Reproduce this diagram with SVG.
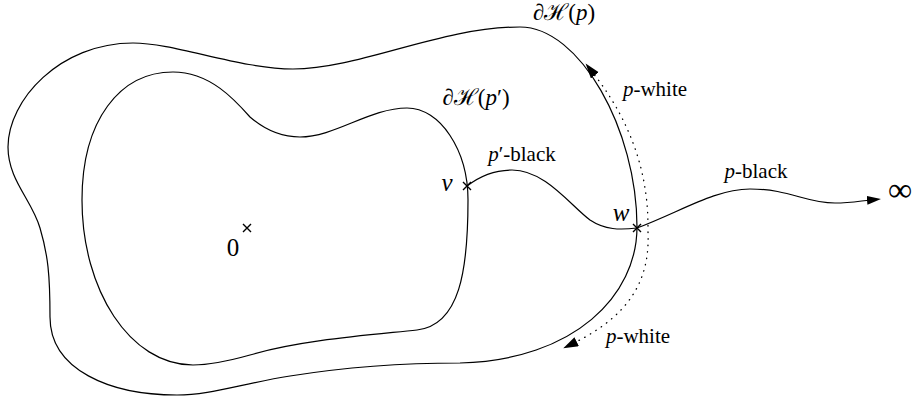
<svg xmlns="http://www.w3.org/2000/svg" width="915" height="401" viewBox="0 0 915 401">
<style>
.curve{fill:none;stroke:#000;stroke-width:1.2}
.dot{fill:none;stroke:#000;stroke-width:1.3;stroke-dasharray:0.5 6;stroke-linecap:round}
.cross{stroke:#000;stroke-width:1.4;fill:none}
text{font-family:"Liberation Serif","DejaVu Serif",serif;fill:#000}
.lbl{font-size:21px}
.big{font-size:23px}
.sym{font-size:25px}
.it{font-style:italic}
</style>
<defs>
<marker id="ah" markerUnits="userSpaceOnUse" markerWidth="16" markerHeight="12" viewBox="0 0 16 12" refX="3" refY="5" orient="auto">
<path d="M0,0 L15,5 L0,10 Z" fill="#000"/>
</marker>
<marker id="ah2" markerUnits="userSpaceOnUse" markerWidth="16" markerHeight="12" viewBox="0 0 16 12" refX="3" refY="4.5" orient="auto">
<path d="M0,0 L14,4.5 L0,9 Z" fill="#000"/>
</marker>
</defs>
<rect width="915" height="401" fill="#fff"/>
<g id="outer-boundary">
<path class="curve" d="M133,43 C175,43 240,69 293,69 C360,69 440,27 520,27 C580,27 637,130 637,227 C637,295 575,360 460,363 C400,363 340,368 290,376 C240,384 210,395 177,395 C110,395 50,370 50,317 C50,275 48,255 40,228 C32,200 8,180 8,147 C8,100 60,43 133,43 Z"/>
<text class="big" x="564" y="20" text-anchor="middle">∂ℋ(<tspan class="it">p</tspan>)</text>
</g>
<g id="inner-boundary">
<path class="curve" d="M173,72 C210,72 235,100 250,117 C265,130 280,137 300,137 C335,137 370,108 407,108 C440,108 468,150 468,200 C468,270 460,325 417,330 C370,335 300,340 250,355 C225,362 210,365 193,365 C130,365 82,290 82,200 C82,120 120,72 173,72 Z"/>
<text class="big" x="476" y="105" text-anchor="middle">∂ℋ(<tspan class="it">p</tspan>′)</text>
</g>
<g id="origin">
<path class="cross" d="M243,224 L251,232 M251,224 L243,232"/>
<text class="sym" x="233" y="256" text-anchor="middle">0</text>
</g>
<g id="v">
<path class="cross" d="M463,182 L471,190 M471,182 L463,190"/>
<text class="sym it" x="447" y="191" text-anchor="middle">v</text>
</g>
<g id="w">
<path class="cross" d="M633,224 L641,232 M641,224 L633,232"/>
<text class="sym it" x="621" y="221" text-anchor="middle">w</text>
</g>
<g id="infinity">
<text x="900" y="201" text-anchor="middle" style="font-size:34px">∞</text>
</g>
<g id="connectors">
<path class="curve" d="M467,186 C485,172 500,170 512,170 C545,170 570,205 590,220 C605,230 620,230 637,228"/>
<path class="curve" marker-end="url(#ah2)" d="M637,228 C680,212 715,189 750,189 C790,189 805,203 835,203 C850,203 860,201 870,200"/>
<path class="dot" marker-end="url(#ah)" d="M648,226 C648,160 622,110 593,73"/>
<path class="dot" marker-end="url(#ah)" d="M648,232 C650,280 630,315 574,343"/>
<text class="lbl" x="522" y="161" text-anchor="middle"><tspan class="it">p</tspan>′-black</text>
<text class="lbl" x="756" y="178" text-anchor="middle"><tspan class="it">p</tspan>-black</text>
<text class="lbl" x="655" y="96" text-anchor="middle"><tspan class="it">p</tspan>-white</text>
<text class="lbl" x="638" y="343" text-anchor="middle"><tspan class="it">p</tspan>-white</text>
</g>
</svg>
